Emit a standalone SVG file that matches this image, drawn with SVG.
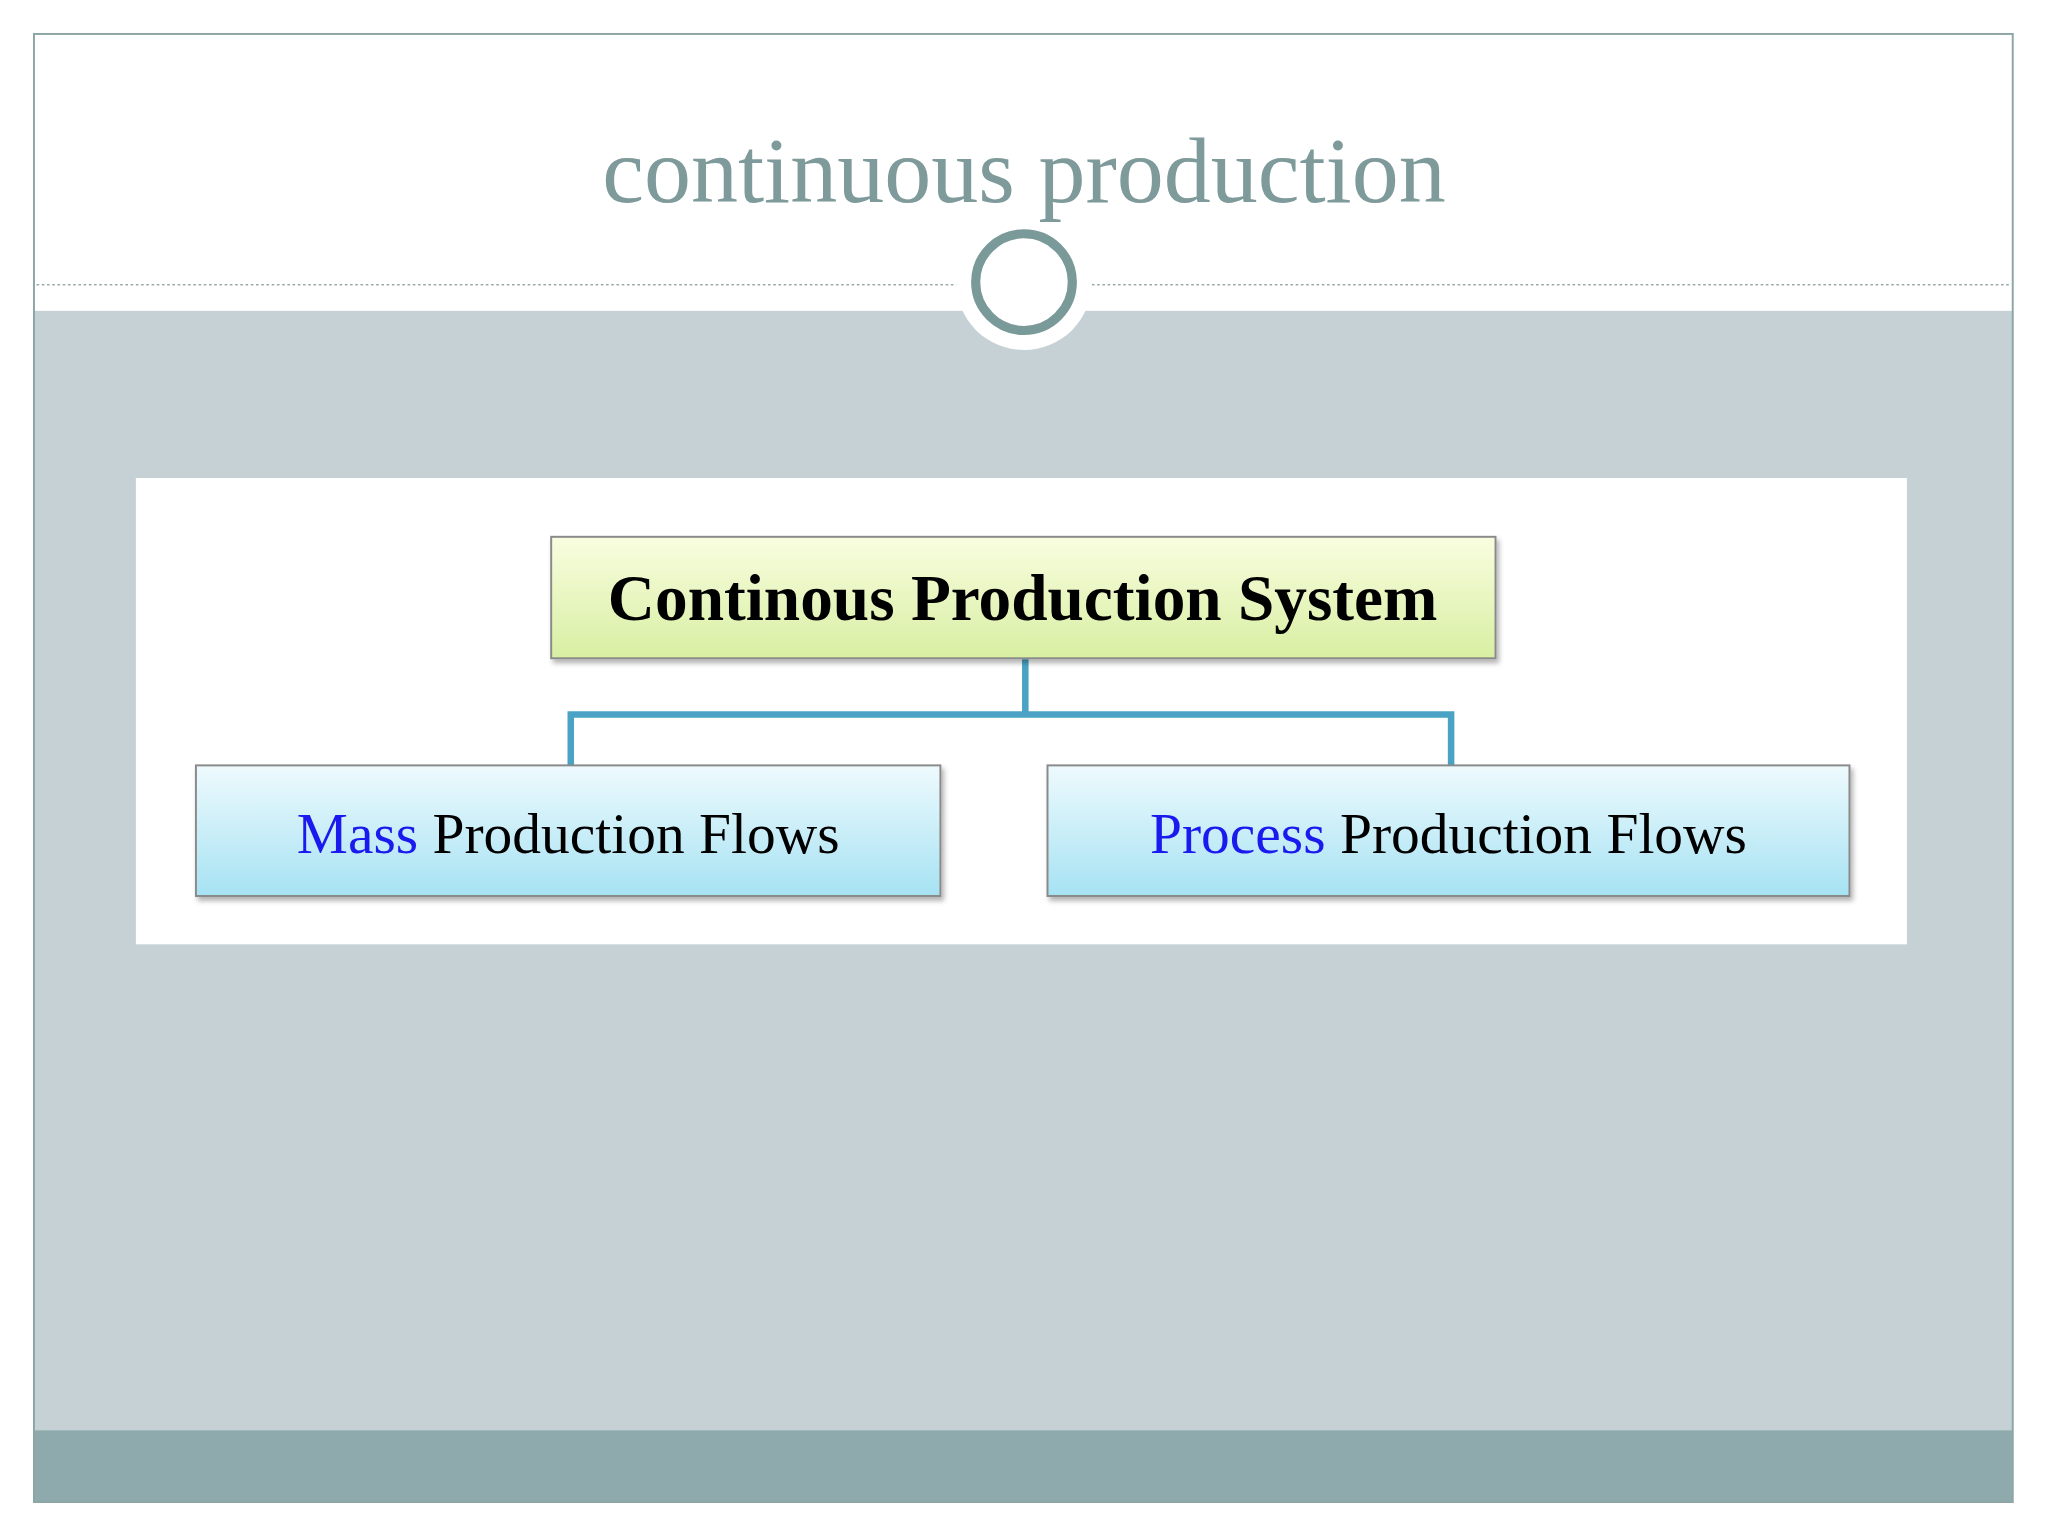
<svg xmlns="http://www.w3.org/2000/svg" width="2048" height="1536" viewBox="0 0 2048 1536">
<defs>
<linearGradient id="gy" x1="0" y1="0" x2="0" y2="1"><stop offset="0" stop-color="#f9fde0"/><stop offset="1" stop-color="#d8efa2"/></linearGradient>
<linearGradient id="gb" x1="0" y1="0" x2="0" y2="1"><stop offset="0" stop-color="#eefafd"/><stop offset="1" stop-color="#a6e2f3"/></linearGradient>
<filter id="sh" x="-5%" y="-10%" width="110%" height="130%"><feDropShadow dx="2" dy="3" stdDeviation="2" flood-color="#000" flood-opacity="0.3"/></filter>
<style>
.box{stroke:#8a8a8a;stroke-width:1.5;filter:url(#sh)}
.lbl{font-family:"Liberation Serif","DejaVu Serif",serif;text-anchor:middle}
.con{stroke:#4aa3c4;stroke-width:5;fill:none}
</style>
</defs>
<rect width="2048" height="1536" fill="#ffffff"/>
<g transform="scale(1.30612)">
<rect x="26" y="238" width="1515" height="857" fill="#c5d1d5"/>
<rect x="26" y="1095" width="1515" height="55" fill="#8eaaad"/>
<rect x="26" y="26" width="1515" height="1124" fill="none" stroke="#8ea5a5" stroke-width="1.5"/>
<line x1="28" y1="218" x2="1539" y2="218" stroke="#9aa" stroke-width="1" stroke-dasharray="2,2"/>
<circle cx="784" cy="216" r="52" fill="#ffffff"/>
<circle cx="784" cy="216" r="37" fill="#ffffff" stroke="#7a9999" stroke-width="7"/>
<text x="784" y="155" class="lbl" font-size="72" fill="#7f9a9a">continuous production</text>
<rect x="104" y="366" width="1356" height="357" fill="#ffffff"/>
<g id="connectors">
<path class="con" d="M785 504V547M437 586V547H1111V586"/>
</g>
<g id="top"><rect class="box" x="422" y="411" width="723" height="93" fill="url(#gy)"/>
<text x="783" y="475" class="lbl" font-size="50" font-weight="bold" fill="#000">Continous Production System</text></g>
<g id="mass"><rect class="box" x="150" y="586" width="570" height="100" fill="url(#gb)"/>
<text x="435" y="653" class="lbl" font-size="44" fill="#000"><tspan fill="#1a1aee">Mass</tspan> Production Flows</text></g>
<g id="process"><rect class="box" x="802" y="586" width="614" height="100" fill="url(#gb)"/>
<text x="1109" y="653" class="lbl" font-size="44" fill="#000"><tspan fill="#1a1aee">Process</tspan> Production Flows</text></g>
</g>
</svg>
